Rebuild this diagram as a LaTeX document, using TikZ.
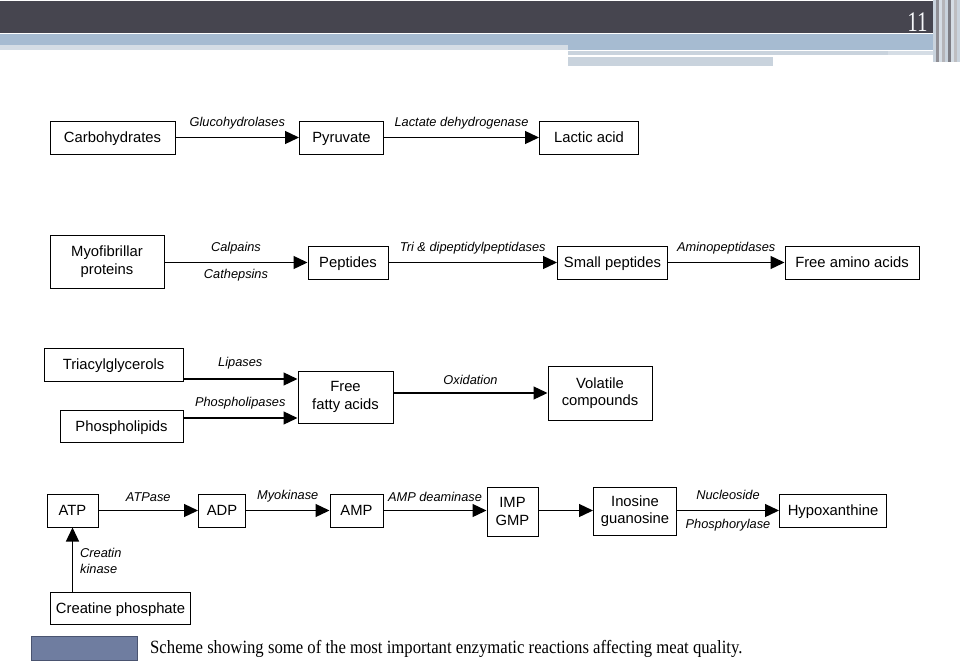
\documentclass[tikz,border=0pt]{standalone}
\usepackage{fontspec}
\setsansfont{Liberation Sans}
\setmainfont{Liberation Serif}
\usetikzlibrary{arrows.meta}
\definecolor{hdark}{HTML}{46454F}
\definecolor{hblue}{HTML}{A6BBD1}
\definecolor{hpale}{HTML}{D5DDE5}
\definecolor{hpale2}{HTML}{C9D3DD}
\definecolor{capfill}{HTML}{6F7DA0}
\definecolor{capdraw}{HTML}{4A5470}
\begin{document}
\begin{tikzpicture}[x=1pt,y=-1pt,
  box/.style={draw, line width=1pt, inner sep=0pt, align=center,
    font=\sffamily\fontsize{14.8}{17.5}\selectfont},
  one/.style={text height=12pt, text depth=1.4pt},
  lbl/.style={font=\sffamily\itshape\fontsize{12.8}{16}\selectfont, inner sep=0pt},
  arr/.style={-{Triangle[length=14pt,width=13pt]}, line width=1.3pt}]
\useasboundingbox (0,0) rectangle (960,669);
% header
\fill[white] (0,0) rectangle (960,669);
\fill[hdark] (0,1.5) rectangle (935,33.5);
\fill[hblue] (0,34) rectangle (935,45);
\fill[hblue] (568,45) rectangle (935,50);
\fill[hpale] (0,45) rectangle (568,50);
\fill[hpale2] (568,51) rectangle (888,55);
\fill[hpale] (888,51) rectangle (935,55);
\fill[hpale2] (568,57.5) rectangle (773,66);
\foreach \xx/\cc in {933/hpale2,936/hdark!60,939/hpale,942/hdark!40,945/hpale2,948/hdark!70,951/hpale,954/hdark!35,957/hpale2}
  \fill[\cc] (\xx,0) rectangle ++(3,62);
\node[font=\rmfamily\fontsize{21}{21}\selectfont, text=white!90!hblue, inner sep=0pt] (pg) at (917.5,22.5) {\scalebox{1}[1.35]{11}};
% row 1
\node[box, one, minimum width=125pt, minimum height=33pt] (carb) at (112.5,137.5) {Carbohydrates};
\node[box, one, minimum width=84pt, minimum height=33pt] (pyr) at (341.5,137.5) {Pyruvate};
\node[box, one, minimum width=99pt, minimum height=33pt] (lac) at (589,137.5) {Lactic acid};
\draw[arr] (carb) -- node[lbl, above=8pt] {Glucohydrolases} (pyr);
\draw[arr] (pyr) -- node[lbl, above=8pt] {Lactate dehydrogenase} (lac);
% row 2
\node[box, minimum width=114pt, minimum height=53pt] (myo) at (107,261.5) {Myofibrillar\\proteins};
\node[box, one, minimum width=80pt, minimum height=33pt] (pep) at (348,262.5) {Peptides};
\node[box, one, minimum width=110pt, minimum height=33pt] (spep) at (612.5,262.5) {Small peptides};
\node[box, one, minimum width=134pt, minimum height=33pt] (faa) at (852,262.5) {Free amino acids};
\draw[arr] (myo.east |- pep) -- node[lbl, above=8pt] {Calpains} node[lbl, below=6pt] {Cathepsins} (pep);
\draw[arr] (pep) -- node[lbl, above=8pt] {Tri \& dipeptidylpeptidases} (spep);
\draw[arr] (spep) -- node[lbl, above=8pt] {Aminopeptidases} (faa);
% row 3
\node[box, one, minimum width=139pt, minimum height=33pt] (tri) at (113.5,364.5) {Triacylglycerols};
\node[box, one, minimum width=123pt, minimum height=32pt] (pho) at (121.5,426) {Phospholipids};
\node[box, minimum width=95pt, minimum height=52pt] (ffa) at (345.5,397) {Free\\fatty acids};
\node[box, minimum width=104pt, minimum height=54pt] (vol) at (600,393) {Volatile\\compounds};
\coordinate (t1) at (183,379);
\coordinate (p1) at (183,418);
\draw[arr] (t1) -- node[lbl, above=9pt] {Lipases} (t1 -| ffa.west);
\draw[arr] (p1) -- node[lbl, above=8pt] {Phospholipases} (p1 -| ffa.west);
\draw[arr] (ffa.east |- vol) -- node[lbl, above=8pt] {Oxidation} (vol);
% row 4
\node[box, one, minimum width=51pt, minimum height=33pt] (atp) at (72.5,510.5) {ATP};
\node[box, one, minimum width=47pt, minimum height=33pt] (adp) at (222,510.5) {ADP};
\node[box, one, minimum width=53pt, minimum height=33pt] (amp) at (356.5,510.5) {AMP};
\node[box, minimum width=51pt, minimum height=49pt] (imp) at (512.5,511.5) {IMP\\GMP};
\node[box, minimum width=83pt, minimum height=48pt] (ino) at (635,511) {Inosine\\guanosine};
\node[box, one, minimum width=107pt, minimum height=33pt] (hyp) at (833,510.5) {Hypoxanthine};
\node[box, one, minimum width=140pt, minimum height=32pt] (cp) at (120.5,608) {Creatine phosphate};
\draw[arr] (atp) -- node[lbl, above=8pt] {ATPase} (adp);
\draw[arr] (adp) -- node[lbl, above=8pt] {Myokinase} (amp);
\draw[arr] (amp) -- node[lbl, above=8pt] {AMP deaminase} (amp -| imp.west);
\draw[arr] (imp.east |- amp) -- (amp -| ino.west);
\draw[arr] (ino.east |- hyp) -- node[lbl, above=10pt] {Nucleoside} node[lbl, below=8pt] {Phosphorylase} (hyp);
\draw[arr] (cp.north -| atp.south) -- (atp.south);
\node[lbl, anchor=west, align=left] (ck) at (80,561) {Creatin\\kinase};
% caption
\node[draw=capdraw, fill=capfill, line width=0.8pt, minimum width=106pt, minimum height=24pt, inner sep=0pt] (capbox) at (84,648) {};
\node[anchor=west, inner sep=0pt, font=\rmfamily\fontsize{16.7}{18}\selectfont] (cap) at (150,649) {\scalebox{1}[1.12]{Scheme showing some of the most important enzymatic reactions affecting meat quality.}};
\end{tikzpicture}
\end{document}
